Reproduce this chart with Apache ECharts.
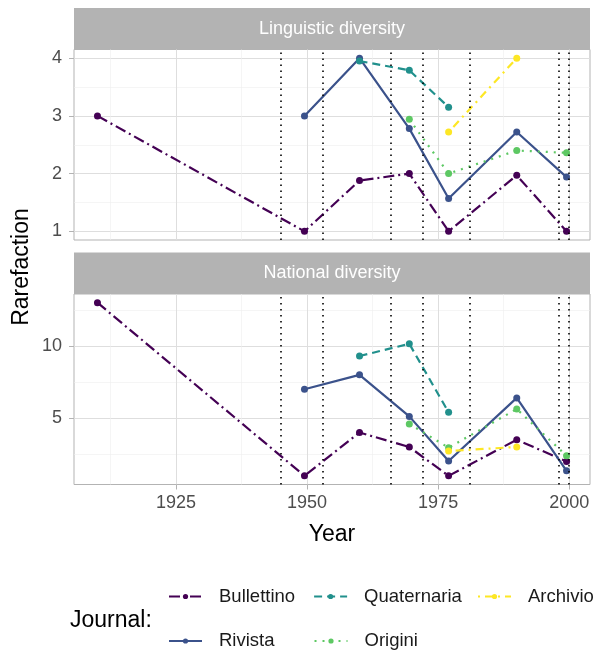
<!DOCTYPE html>
<html>
<head>
<meta charset="utf-8">
<title>Rarefaction by journal</title>
<script src="https://cdn.jsdelivr.net/npm/echarts@6/dist/echarts.min.js"></script>
<style>
    html, body { margin: 0; padding: 0; background: #fff; }
    #chart { width: 596px; height: 654px; }
</style>
</head>
<body>
<div id="chart"></div>
<script>
// period midpoints (x) and period boundaries (dotted lines)
const years = [1910, 1949.5, 1960, 1969.5, 1977, 1990, 1999.5];
const periodBreaks = [1945, 1953, 1966, 1972, 1981, 1998, 2000];

const journals = ['Bullettino', 'Rivista', 'Quaternaria', 'Origini', 'Archivio'];

// Linguistic diversity
const lingBullettino = [3.0, 1.0, 1.88, 2.0, 1.0, 1.97, 1.0];
const lingRivista = [null, 3.0, 4.0, 2.78, 1.57, 2.72, 1.94];
const lingQuaternaria = [null, null, 3.95, 3.79, 3.15, null, null];
const lingOrigini = [null, null, null, 2.94, 2.0, 2.40, 2.36];
const lingArchivio = [null, null, null, null, 2.72, 4.0, null];

// National diversity
const natBullettino = [13, 1, 4, 3, 1, 3.5, 2];
const natRivista = [null, 7, 8, 5.12, 2.03, 6.4, 1.35];
const natQuaternaria = [null, null, 9.3, 10.15, 5.4, null, null];
const natOrigini = [null, null, null, 4.6, 2.95, 5.63, 2.39];
const natArchivio = [null, null, null, null, 2.72, 3.0, null];

const xTicks = [1925, 1950, 1975, 2000];
const xMinor = [1912.5, 1937.5, 1962.5, 1987.5];
const lingTicks = [1, 2, 3, 4];
const lingMinor = [1.5, 2.5, 3.5];
const natTicks = [5, 10];
const natMinor = [2.5, 7.5, 12.5];

const panels = [
    {title: 'Linguistic diversity', values: [lingBullettino, lingRivista, lingQuaternaria, lingOrigini, lingArchivio], ticks: lingTicks, minor: lingMinor},
    {title: 'National diversity', values: [natBullettino, natRivista, natQuaternaria, natOrigini, natArchivio], ticks: natTicks, minor: natMinor}
];

const colors = ['#440154', '#3B528B', '#21908C', '#5DC863', '#FDE725'];
const dashes = [[11, 4, 2, 4], 'solid', [8, 5], [2, 6], [2, 5, 8, 5]];
const FONT = '"Liberation Sans", Arial, sans-serif';

// ggplot-like 5% expansion
function expand(arr) {
    const lo = Math.min(...arr), hi = Math.max(...arr);
    const pad = (hi - lo) * 0.05;
    return [lo - pad, hi + pad];
}

const xRange = expand(years);

const grids = [
    {left: 74, right: 6, top: 49.5, height: 190.5},
    {left: 74, right: 6, top: 294, height: 190.5}
];

const xAxes = [], yAxes = [], series = [];

panels.forEach((p, i) => {
    const all = [].concat(...p.values).filter(v => v != null);
    const yRange = expand(all);
    const isBottom = i === panels.length - 1;

    xAxes.push({
        gridIndex: i, type: 'value', min: xRange[0], max: xRange[1],
        axisLine: {show: false},
        axisTick: {show: isBottom, customValues: xTicks, length: 5, lineStyle: {color: '#b3b3b3'}},
        axisLabel: {
            show: isBottom, customValues: xTicks, fontSize: 18, color: '#4d4d4d', margin: 10, fontFamily: FONT,
            formatter: v => String(v)
        },
        splitLine: {show: true, lineStyle: {color: '#dedede', width: 1}}
    });
    xAxes.push({
        gridIndex: i, type: 'value', min: xRange[0], max: xRange[1], position: 'top',
        axisLine: {show: false},
        axisTick: {show: false, customValues: xMinor},
        axisLabel: {show: false},
        splitLine: {show: true, lineStyle: {color: '#efefef', width: 0.6}}
    });
    yAxes.push({
        gridIndex: i, type: 'value', min: yRange[0], max: yRange[1],
        axisLine: {show: false},
        axisTick: {show: true, customValues: p.ticks, length: 5, lineStyle: {color: '#b3b3b3'}},
        axisLabel: {customValues: p.ticks, fontSize: 18, color: '#4d4d4d', margin: 12, fontFamily: FONT},
        splitLine: {show: true, lineStyle: {color: '#dedede', width: 1}}
    });
    yAxes.push({
        gridIndex: i, type: 'value', min: yRange[0], max: yRange[1], position: 'right',
        axisLine: {show: false},
        axisTick: {show: false, customValues: p.minor},
        axisLabel: {show: false},
        splitLine: {show: true, lineStyle: {color: '#efefef', width: 0.6}}
    });

    journals.forEach((name, j) => {
        const pts = [];
        p.values[j].forEach((v, k) => {
            if (v != null) pts.push([years[k], v]);
        });
        const s = {
            name: name,
            type: 'line',
            xAxisIndex: i * 2,
            yAxisIndex: i * 2,
            data: pts,
            symbol: 'circle',
            symbolSize: 7,
            showSymbol: true,
            itemStyle: {color: colors[j]},
            lineStyle: {color: colors[j], width: 2.2, type: dashes[j]},
            emphasis: {disabled: true},
            z: 3
        };
        if (j === 0) {
            s.markLine = {
                silent: true,
                symbol: 'none',
                label: {show: false},
                lineStyle: {color: '#000', width: 1.6, type: [1.6, 4.4]},
                data: periodBreaks.map(v => ({xAxis: v}))
            };
        }
        series.push(s);
    });
});

const graphics = [];
panels.forEach((p, i) => {
    const g = grids[i];
    graphics.push({
        type: 'rect',
        shape: {x: g.left, y: g.top - 41.5, width: 596 - g.left - g.right, height: 41.5},
        style: {fill: '#b3b3b3'}
    });
    graphics.push({
        type: 'text',
        x: g.left + (596 - g.left - g.right) / 2,
        y: g.top - 20.5,
        style: {text: p.title, fill: '#fff', font: '18px ' + FONT, align: 'center', verticalAlign: 'middle'}
    });
});
graphics.push({
    type: 'text', x: 332, y: 535,
    style: {text: 'Year', fill: '#000', font: '23px ' + FONT, align: 'center', verticalAlign: 'middle'}
});
graphics.push({
    type: 'text', x: 22, y: 267, rotation: Math.PI / 2,
    style: {text: 'Rarefaction', fill: '#000', font: '23px ' + FONT, align: 'center', verticalAlign: 'middle'}
});
graphics.push({
    type: 'text', x: 70, y: 621,
    style: {text: 'Journal:', fill: '#000', font: '23px ' + FONT, align: 'left', verticalAlign: 'middle'}
});

const legendBase = {
    orient: 'horizontal',
    left: 168,
    width: 700,
    padding: 0,
    itemWidth: 33,
    itemHeight: 6.5,
    selectedMode: false,
    textStyle: {fontSize: 18.5, color: '#1a1a1a', fontFamily: FONT, padding: [0, 0, 0, 12]}
};

const myChart = echarts.init(document.getElementById('chart'));
const option = {
    animation: false,
    textStyle: {fontFamily: FONT},
    grid: grids.map(g => Object.assign({show: true, borderColor: '#b3b3b3', borderWidth: 1, backgroundColor: 'transparent'}, g)),
    xAxis: xAxes,
    yAxis: yAxes,
    legend: [
        Object.assign({}, legendBase, {top: 587, itemGap: 18, data: ['Bullettino', 'Quaternaria']}),
        Object.assign({}, legendBase, {top: 587, left: 477, data: ['Archivio']}),
        Object.assign({}, legendBase, {top: 631.5, itemGap: 39, data: ['Rivista', 'Origini']})
    ],
    graphic: graphics,
    series: series
};
option && myChart.setOption(option);
</script>
</body>
</html>
